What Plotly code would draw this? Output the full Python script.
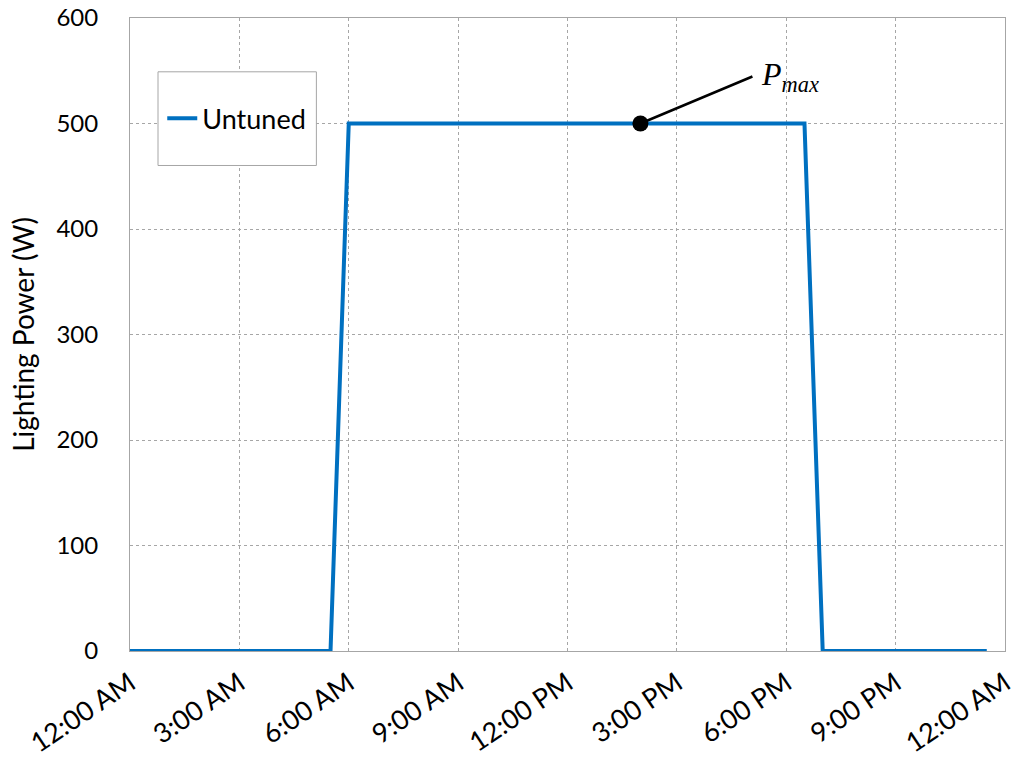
import plotly.graph_objects as go

# Half-hourly time (hours from midnight) and lighting power (W)
hours = [i * 0.5 for i in range(48)]
power = ([0] * 12) + ([500] * 26) + ([0] * 10)

tick_hours = [0, 3, 6, 9, 12, 15, 18, 21, 24]
tick_labels = ["12:00 AM", "3:00 AM", "6:00 AM", "9:00 AM", "12:00 PM",
               "3:00 PM", "6:00 PM", "9:00 PM", "12:00 AM"]
y_ticks = [0, 100, 200, 300, 400, 500, 600]

pmax_hour = [14]
pmax_value = [500]

FONT = "Lato"
BLUE = "#0070C0"
GRID = "#A6A6A6"

fig = go.Figure()
fig.add_trace(go.Scatter(x=hours, y=power, mode="lines", name="Untuned",
                         line=dict(color=BLUE, width=4)))
fig.add_trace(go.Scatter(x=pmax_hour, y=pmax_value, mode="markers", showlegend=False,
                         marker=dict(color="black", size=16)))

fig.add_annotation(x=pmax_hour[0], y=pmax_value[0], xref="x", yref="y",
                   text="&nbsp;<i>P</i><sub><i>max</i></sub>", showarrow=True,
                   arrowhead=0, arrowwidth=2.5, arrowcolor="black",
                   ax=112, ay=-47, xanchor="left", yanchor="middle",
                   font=dict(family="Liberation Serif", size=32, color="black"))

# legend box
fig.add_shape(type="rect", xref="paper", yref="paper",
              x0=0.032, x1=0.213, y0=0.767, y1=0.915,
              line=dict(color=GRID, width=1), fillcolor="white", layer="above")

fig.update_layout(
    width=1016, height=761,
    margin=dict(l=130, r=11, t=18, b=110, autoexpand=False),
    paper_bgcolor="white", plot_bgcolor="white",
    font=dict(family=FONT, size=26, color="black"),
    showlegend=True,
    legend=dict(x=0.122, y=0.841, xanchor="center", yanchor="middle",
                bgcolor="rgba(0,0,0,0)", borderwidth=0,
                font=dict(family=FONT, size=27, color="black"),
                itemwidth=30),
    xaxis=dict(range=[0, 24], tickvals=tick_hours, ticktext=tick_labels,
               tickangle=-34, showgrid=True, gridcolor=GRID, griddash="dot",
               gridwidth=1, showline=True, linecolor=GRID, linewidth=1,
               mirror=True, zeroline=False, ticks="", automargin=False,
               ticklabeloverflow="allow", ticklabelstandoff=5,
               tickfont=dict(family=FONT, size=27)),
    yaxis=dict(range=[0, 600], tickvals=y_ticks, showgrid=True, gridcolor=GRID,
               griddash="dot", gridwidth=1, showline=True, linecolor=GRID,
               linewidth=1, mirror=True, zeroline=False, ticks="",
               ticklabelstandoff=26, automargin=False,
               title=dict(text="Lighting Power (W)", font=dict(family=FONT, size=28),
                          standoff=13),
               tickfont=dict(family=FONT, size=24)),
)

fig.write_html("out.html", config={"displayModeBar": False},
               post_script="document.body.style.margin='0';document.body.style.overflow='hidden';")
